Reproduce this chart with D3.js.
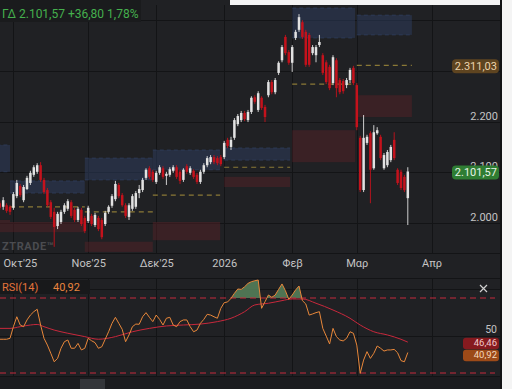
<!DOCTYPE html>
<meta charset="utf-8">
<style>
  body { margin: 0; background: #202124; }
  svg { display: block; font-family: Roboto, "Noto Sans", sans-serif; }
</style>
<svg width="512" height="389"></svg>
<script src="https://cdnjs.cloudflare.com/ajax/libs/d3/7.8.5/d3.min.js"></script>
<script>
// daily candles, index 0 = last days of Sep 2025, index 120 = 23 Mar 2026
var open = [2039,2032,2035,2032,2030,2053,2073,2045,2067,2079,
  2095,2101,2114,2085,2065,2041,2022,1994,2002,2022,
  2028,2041,2026,2006,2026,2010,2004,2014,1996,2010,
  2006,1998,2022,2034,2047,2075,2055,2035,2012,2028,
  2032,2059,2065,2089,2108,2101,2081,2099,2108,2093,
  2095,2103,2110,2101,2085,2112,2099,2103,2095,2081,
  2101,2114,2120,2130,2128,2130,2130,2164,2150,2168,
  2195,2203,2217,2203,2219,2248,2223,2247,2229,2252,
  2278,2258,2296,2321,2367,2337,2316,2365,2381,2396,
  2377,2371,2335,2331,2351,2331,2317,2308,2276,2321,
  2282,2280,2272,2282,2306,2272,2168,2065,2158,2177,
  2108,2177,2170,2108,2114,2124,2164,2105,2101,2091,
  2049];
var high = [2043,2051,2039,2035,2061,2085,2077,2075,2093,2103,
  2114,2118,2120,2089,2069,2045,2030,2022,2026,2039,
  2047,2045,2030,2032,2030,2014,2034,2018,2020,2014,
  2010,2024,2035,2057,2083,2079,2059,2039,2039,2057,
  2063,2075,2089,2108,2112,2105,2103,2114,2112,2101,
  2110,2114,2114,2105,2108,2116,2112,2106,2099,2105,
  2118,2132,2134,2134,2132,2134,2162,2168,2170,2207,
  2215,2221,2221,2223,2250,2252,2260,2250,2233,2282,
  2282,2286,2319,2351,2371,2341,2351,2381,2412,2400,
  2381,2375,2351,2351,2371,2335,2321,2312,2331,2325,
  2286,2284,2286,2306,2310,2276,2172,2213,2174,2181,
  2193,2189,2174,2138,2144,2154,2179,2108,2105,2095,
  2110];
var low = [2026,2026,2020,2016,2026,2049,2051,2041,2065,2075,
  2091,2097,2081,2057,2032,2008,1953,1988,1998,2018,
  2024,2010,2002,2002,1994,1980,2000,1994,1992,1984,
  1968,1994,2018,2030,2043,2049,2032,2010,2006,2024,
  2028,2049,2061,2085,2087,2081,2077,2095,2087,2075,
  2091,2099,2087,2077,2081,2097,2095,2087,2077,2077,
  2097,2110,2116,2116,2114,2112,2126,2148,2144,2164,
  2191,2199,2201,2199,2215,2235,2219,2223,2199,2248,
  2254,2254,2292,2317,2331,2312,2298,2361,2377,2363,
  2308,2308,2331,2317,2347,2292,2274,2262,2272,2248,
  2254,2255,2266,2276,2272,2183,2061,2061,2154,2039,
  2105,2174,2124,2105,2110,2120,2124,2075,2065,2061,
  1996];
var close = [2030,2045,2024,2022,2057,2079,2055,2071,2089,2099,
  2110,2114,2085,2061,2035,2012,1992,2018,2022,2035,
  2043,2014,2006,2028,1998,1984,2030,1998,2016,1988,
  1972,2020,2032,2053,2077,2053,2035,2014,2035,2053,
  2059,2067,2085,2105,2091,2085,2099,2110,2091,2097,
  2106,2110,2091,2083,2105,2101,2108,2091,2081,2101,
  2114,2128,2130,2120,2118,2116,2158,2152,2164,2203,
  2211,2217,2205,2219,2247,2239,2256,2227,2209,2278,
  2258,2282,2316,2347,2335,2316,2347,2377,2406,2367,
  2312,2312,2347,2347,2357,2296,2278,2266,2327,2266,
  2258,2260,2282,2302,2276,2189,2065,2168,2170,2105,
  2179,2183,2128,2134,2140,2150,2128,2079,2069,2064.77,
  2101.57];

// RSI(14) read per candle, and its smoothing line read at a few candles
var rsi = [48.0,48.0,48.0,48.5,54.7,60.0,55.6,54.7,58.3,60.9,
  62.7,64.0,55.6,48.5,44.9,40.5,36.0,37.8,43.2,46.7,
  47.6,43.2,43.2,45.8,42.3,43.2,48.5,47.2,46.2,43.2,
  44.0,48.0,52.0,56.5,59.7,56.5,53.3,46.7,50.3,54.7,
  56.1,56.0,60.0,62.2,59.7,57.4,60.9,58.6,55.6,59.2,
  59.7,55.6,54.7,57.4,58.3,58.3,54.7,52.0,52.9,56.5,
  58.6,61.3,60.9,60.0,59.2,64.5,67.5,67.9,69.8,72.5,
  74.8,74.6,76.0,77.8,78.7,79.2,79.6,64.5,68.0,71.6,
  70.4,71.6,74.6,77.5,73.9,69.3,71.6,74.3,76.4,68.6,
  66.8,60.9,61.5,62.2,62.7,53.8,49.7,45.5,53.8,49.4,
  47.6,47.1,48.5,52.0,51.2,44.9,29.8,36.9,41.4,37.8,
  40.5,44.4,43.2,41.7,42.3,42.3,42.6,40.8,36.6,36.0,
  40.92];
var rsiMaIdx = [0,3,6,9,11,13,16,20,25,29,34,39,44,49,54,59,64,68,72,75,79,83,86,89,93,98,103,106,110,114,118,120];
var rsiMaVal = [53.8,53.8,54.7,55.6,55.9,54.7,52.9,51.2,49.4,48.0,49.4,52.0,53.8,55.1,55.6,56.1,57.4,59.2,62.7,66.3,67.2,68.6,69.5,69.5,67.2,63.6,59.2,55.6,52.0,50.3,48.0,46.46];

// monthly zones (candle index range, prices)
var zoneStart = [-1, 3, 25, 45, 66, 86, 105];
var zoneEnd = [3, 25, 45, 64.8, 85.4, 104.5, 121.2];
var blueHi = [2154, 2083, 2128, 2144, 2148, 2424, 2410];
var blueLo = [2101, 2059, 2085, 2105, 2124, 2365, 2371];
var pivot = [null, 2032, 2022, 2055, 2110, 2274, 2311.03];
var redHi = [2006, 2002, 1963, 2002, 2091, 2183, 2252];
var redLo = [1982, 1982, 1943, 1966, 2071, 2120, 2209];

var monthIdx = [4, 26, 46, 66, 86, 105, 127];
var monthLabels = ["Οκτ'25", "Νοε'25", "Δεκ'25", "2026", "Φεβ", "Μαρ", "Απρ"];
var priceTicks = [2000, 2100, 2200, 2300, 2400];
var priceLabels = [2000, 2100, 2200];
var rsiTicks = [50, 75];

var lastPrice = 2101.57, pivotNow = 2311.03, rsiLast = 40.92, rsiMaLast = 46.46;

var gr = d3.formatLocale({decimal: ",", thousands: ".", grouping: [3], currency: ["", "€"]});
var fInt = gr.format(",.0f"), f2 = gr.format(",.2f");

var svg = d3.select("svg"),
  right = 500;

var x = d3.scaleLinear().domain([0, 120]).range([-0.2, 407.8]);
var y = d3.scaleLinear().domain([2000, 2400]).range([223, 20.2]);
var yr = d3.scaleLinear().domain([30, 70]).range([373, 298]);

svg.append("rect").attr("width", 512).attr("height", 389).attr("fill", "#202124");

var defs = svg.append("defs");
defs.append("clipPath").attr("id", "mainClip")
  .append("rect").attr("x", 0).attr("y", 5).attr("width", right).attr("height", 248);
defs.append("clipPath").attr("id", "rsiClip")
  .append("rect").attr("x", 0).attr("y", 279).attr("width", right).attr("height", 97);
defs.append("clipPath").attr("id", "overClip")
  .append("rect").attr("x", 0).attr("y", 270).attr("width", right).attr("height", yr(70) - 270);

// grid
var grid = svg.append("g").attr("stroke", "#131416").attr("stroke-width", 1);
grid.selectAll(".vg").data(monthIdx).enter().append("line")
  .attr("x1", function(d) { return Math.round(x(d)) + 0.5; })
  .attr("x2", function(d) { return Math.round(x(d)) + 0.5; })
  .attr("y1", 5).attr("y2", 253);
grid.selectAll(".vr").data(monthIdx).enter().append("line")
  .attr("x1", function(d) { return Math.round(x(d)) + 0.5; })
  .attr("x2", function(d) { return Math.round(x(d)) + 0.5; })
  .attr("y1", 279).attr("y2", 376);
grid.selectAll(".hg").data(priceTicks).enter().append("line")
  .attr("x1", 0).attr("x2", right)
  .attr("y1", function(d) { return Math.round(y(d)) + 0.5; })
  .attr("y2", function(d) { return Math.round(y(d)) + 0.5; });
grid.selectAll(".hr").data(rsiTicks).enter().append("line")
  .attr("x1", 0).attr("x2", right)
  .attr("y1", function(d) { return Math.round(yr(d)) + 0.5; })
  .attr("y2", function(d) { return Math.round(yr(d)) + 0.5; });
[253.5, 278.5, 376.5].forEach(function(v) {
  grid.append("line").attr("x1", 0).attr("x2", right).attr("y1", v).attr("y2", v);
});

// zones
var zones = svg.append("g").attr("clip-path", "url(#mainClip)");
var zi = d3.range(zoneStart.length);
zones.selectAll(".blue").data(zi).enter().append("rect")
  .attr("x", function(i) { return x(zoneStart[i]); })
  .attr("width", function(i) { return x(zoneEnd[i]) - x(zoneStart[i]); })
  .attr("y", function(i) { return y(blueHi[i]); })
  .attr("height", function(i) { return y(blueLo[i]) - y(blueHi[i]); })
  .attr("fill", "#2d3d60").attr("fill-opacity", 0.5);
zones.selectAll(".blueEdge").data(zi.concat(zi)).enter().append("line")
  .attr("x1", function(i) { return x(zoneStart[i]); })
  .attr("x2", function(i) { return x(zoneEnd[i]); })
  .attr("y1", function(i, k) { return y(k < zi.length ? blueHi[i] : blueLo[i]); })
  .attr("y2", function(i, k) { return y(k < zi.length ? blueHi[i] : blueLo[i]); })
  .attr("stroke", "#34476f").attr("stroke-dasharray", "4,3").attr("stroke-opacity", 0.55);
zones.selectAll(".red").data(zi).enter().append("rect")
  .attr("x", function(i) { return x(zoneStart[i]); })
  .attr("width", function(i) { return x(zoneEnd[i]) - x(zoneStart[i]); })
  .attr("y", function(i) { return y(redHi[i]); })
  .attr("height", function(i) { return y(redLo[i]) - y(redHi[i]); })
  .attr("fill", "#5a2227").attr("fill-opacity", 0.45);
zones.selectAll(".pivot").data(zi.filter(function(i) { return pivot[i] != null; })).enter().append("line")
  .attr("x1", function(i) { return x(zoneStart[i]); })
  .attr("x2", function(i) { return x(zoneEnd[i]); })
  .attr("y1", function(i) { return y(pivot[i]); })
  .attr("y2", function(i) { return y(pivot[i]); })
  .attr("stroke", "#8a7936").attr("stroke-width", 1.2).attr("stroke-dasharray", "5,4");

// watermark
svg.append("text").attr("x", 2).attr("y", 250)
  .attr("fill", "#4b4c50").attr("font-size", 11).attr("font-weight", 700)
  .attr("letter-spacing", 0.6).text("ZTRADE™");

// candles
var ci = d3.range(open.length);
var candles = svg.append("g").attr("clip-path", "url(#mainClip)");
var c = candles.selectAll(".c").data(ci).enter().append("g")
  .attr("fill", function(i) { return close[i] >= open[i] ? "#e2e2e2" : "#c4121c"; })
  .attr("stroke", function(i) { return close[i] >= open[i] ? "#e2e2e2" : "#c4121c"; });
c.append("line")
  .attr("x1", function(i) { return x(i); }).attr("x2", function(i) { return x(i); })
  .attr("y1", function(i) { return y(high[i]); }).attr("y2", function(i) { return y(low[i]); })
  .attr("stroke-width", 0.9);
c.append("rect")
  .attr("stroke", "none")
  .attr("x", function(i) { return x(i) - 1.25; }).attr("width", 2.5)
  .attr("y", function(i) { return y(Math.max(open[i], close[i])); })
  .attr("height", function(i) { return Math.max(1, Math.abs(y(open[i]) - y(close[i]))); });

// price axis labels
var pa = svg.append("g").attr("transform", "translate(498,-6)")
  .call(d3.axisLeft(y).tickValues(priceLabels).tickSize(0).tickPadding(0).tickFormat(fInt));
pa.select(".domain").remove();
pa.selectAll("text").attr("fill", "#c4c4c4").attr("font-size", 11).attr("font-family", "Roboto, sans-serif");

function tag(yy, txt, bg, fg) {
  var g = svg.append("g");
  g.append("rect").attr("x", 452).attr("y", yy - 7).attr("width", 47).attr("height", 14)
    .attr("rx", 4).attr("fill", bg);
  g.append("text").attr("x", 497).attr("y", yy).attr("dy", "0.35em").attr("text-anchor", "end")
    .attr("font-size", 11).attr("fill", fg).text(txt);
}
tag(y(pivotNow) + 1, f2(pivotNow), "#5e4420", "#ecd3ad");
tag(y(lastPrice) + 1, f2(lastPrice), "#2f7d33", "#e6f4e6");

// x axis
var xa = svg.append("g").attr("transform", "translate(0,259)")
  .call(d3.axisBottom(x).tickValues(monthIdx).tickSize(0).tickPadding(0)
    .tickFormat(function(d, i) { return monthLabels[i]; }));
xa.select(".domain").remove();
xa.selectAll("text").attr("fill", "#c4c4c4").attr("font-size", 11).attr("font-family", "Roboto, sans-serif")
  .each(function(d) {
    var w = this.getComputedTextLength();
    if (x(d) - w / 2 < 3) d3.select(this).attr("x", 3 - x(d) + w / 2);
  });

// top-left quote
svg.append("rect").attr("x", 0).attr("y", 0).attr("width", 141).attr("height", 22).attr("fill", "#1a1b1d");
svg.append("text").attr("x", 2).attr("y", 18).attr("font-size", 12).attr("fill", "#45b04d")
  .text("ΓΔ " + f2(lastPrice) + " +36,80 1,78%");

// RSI pane
var rp = svg.append("g").attr("clip-path", "url(#rsiClip)");
rp.append("path").datum(ci)
  .attr("clip-path", "url(#overClip)")
  .attr("d", d3.area().x(function(i) { return x(i); }).y0(yr(70)).y1(function(i) { return yr(rsi[i]); }))
  .attr("fill", "#58835c").attr("fill-opacity", 0.85);
[70, 30].forEach(function(v) {
  rp.append("line").attr("x1", 0).attr("x2", 495).attr("y1", yr(v)).attr("y2", yr(v))
    .attr("stroke", "#c52a3c").attr("stroke-dasharray", "6,4");
});
rp.append("path").datum(d3.range(rsiMaIdx.length))
  .attr("d", d3.line().curve(d3.curveMonotoneX)
    .x(function(k) { return x(rsiMaIdx[k]); }).y(function(k) { return yr(rsiMaVal[k]); }))
  .attr("fill", "none").attr("stroke", "#c8283c").attr("stroke-width", 1);
rp.append("path").datum(ci)
  .attr("d", d3.line().x(function(i) { return x(i); }).y(function(i) { return yr(rsi[i]); }))
  .attr("fill", "none").attr("stroke", "#e8873a").attr("stroke-width", 1);

svg.append("rect").attr("x", 0).attr("y", 280).attr("width", 90).attr("height", 14).attr("fill", "#18191b");
svg.append("text").attr("x", 2).attr("y", 291).attr("font-size", 11).attr("fill", "#e2733a").text("RSI(14)");
svg.append("text").attr("x", 53).attr("y", 291).attr("font-size", 11).attr("fill", "#e8843e").text(f2(rsiLast));

svg.append("text").attr("x", 497).attr("y", yr(50) - 6.5).attr("dy", "0.35em").attr("text-anchor", "end")
  .attr("font-size", 10.5).attr("fill", "#c4c4c4").text("50");
function rtag(yy, txt, bg, fg) {
  svg.append("rect").attr("x", 463).attr("y", yy - 5.5).attr("width", 36).attr("height", 11.5)
    .attr("rx", 3).attr("fill", bg);
  svg.append("text").attr("x", 497).attr("y", yy).attr("dy", "0.35em").attr("text-anchor", "end")
    .attr("font-size", 9.5).attr("fill", fg).text(txt);
}
rtag(yr(rsiMaLast) + 1, f2(rsiMaLast), "#861a1f", "#f2c8c8");
rtag(yr(rsiMaLast) + 13, f2(rsiLast), "#9c4a18", "#f5d8bd");

// close icon
svg.append("path").attr("d", "M480,285L487,292M487,285L480,292")
  .attr("stroke", "#cfcfcf").attr("stroke-width", 1.2);

// bottom navigator strip
svg.append("rect").attr("x", 0).attr("y", 377).attr("width", right).attr("height", 12).attr("fill", "#1b1c1f");
svg.append("rect").attr("x", 80).attr("y", 379).attr("width", 25).attr("height", 10).attr("fill", "#34363a");

// frame edges
svg.append("rect").attr("x", 230).attr("y", 0).attr("width", 282).attr("height", 5).attr("fill", "#f4f4f4");
svg.append("rect").attr("x", 500).attr("y", 0).attr("width", 2).attr("height", 389).attr("fill", "#111214");
svg.append("rect").attr("x", 502).attr("y", 0).attr("width", 10).attr("height", 389).attr("fill", "#f4f4f4");
</script>
